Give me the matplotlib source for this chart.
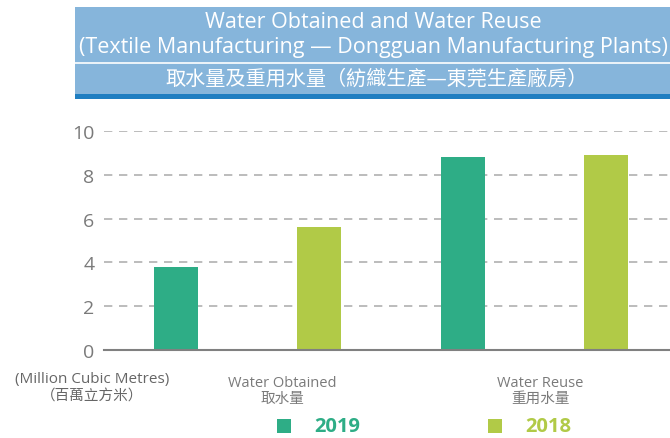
import numpy as np
import matplotlib.pyplot as plt
from matplotlib.patches import Rectangle

plt.rcParams['font.family'] = ['Open Sans', 'Noto Sans CJK TC', 'DejaVu Sans']

# data
years = ['2019', '2018']
categories = ['Water Obtained\n取水量', 'Water Reuse\n重用水量']
values_2019 = [3.8, 8.8]
values_2018 = [5.6, 8.9]
yticks = [0, 2, 4, 6, 8, 10]

c2019 = '#2EAD86'
c2018 = '#B1CA47'
grey = '#7a7a7a'

W, H = 670, 439
fig = plt.figure(figsize=(W / 100, H / 100), dpi=100)


def fx(px):
    return px / W


def fy(py):
    return 1 - py / H


# title band
fig.add_artist(Rectangle((fx(75), fy(96)), fx(670) - fx(75), fy(8) - fy(96),
                         transform=fig.transFigure, facecolor='#86B5DB', edgecolor='none'))
fig.add_artist(Rectangle((fx(75), fy(100)), fx(670) - fx(75), fy(95) - fy(100),
                         transform=fig.transFigure, facecolor='#1F7EC1', edgecolor='none'))
fig.add_artist(plt.Line2D([fx(75), fx(670)], [fy(64), fy(64)], transform=fig.transFigure,
                          color='white', lw=1.2))
tx = fx(373)
fig.text(tx, fy(22), 'Water Obtained and Water Reuse', color='white', fontsize=15.5,
         ha='center', va='center')
fig.text(tx, fy(47), '(Textile Manufacturing — Dongguan Manufacturing Plants)', color='white',
         fontsize=15.5, ha='center', va='center')
fig.text(fx(377), fy(80), '取水量及重用水量（紡織生產—東莞生產廠房）', color='white', fontsize=14.5,
         ha='center', va='center')

# axes
ax = fig.add_axes([fx(104), fy(351), fx(670) - fx(104), fy(132) - fy(351)])
step = 143.3
x = np.arange(len(categories))
ax.bar(x * 2, values_2019, width=44 / step, color=c2019)
ax.bar(x * 2 + 1, values_2018, width=44 / step, color=c2018)
ax.set_xlim((104 - 176) / step, (670 - 176) / step)
ax.set_ylim(0, 10)
ax.set_yticks(yticks)
ax.set_yticklabels([str(v) for v in yticks], color=grey, fontsize=14)
ax.tick_params(axis='y', length=0, pad=7)
ax.set_xticks([(282 - 176) / step, (540 - 176) / step])
ax.set_xticklabels(categories, color=grey, fontsize=10.5, linespacing=1.05)
ax.tick_params(axis='x', length=0, pad=18)
for v in yticks[1:]:
    ax.axhline(v, color='#b0b0b0', lw=1.2, ls=(0, (5, 4)), zorder=0)
for s in ['top', 'right', 'left']:
    ax.spines[s].set_visible(False)
ax.spines['bottom'].set_color('#808080')
ax.spines['bottom'].set_linewidth(1.5)

fig.text(fx(92), fy(380), '(Million Cubic Metres)', color='#666666', fontsize=11,
         ha='center', va='center')
fig.text(fx(92), fy(397), '（百萬立方米）', color='#666666', fontsize=10.5,
         ha='center', va='center')

# legend
for lx, label, col in [(277, years[0], c2019), (488, years[1], c2018)]:
    fig.add_artist(Rectangle((fx(lx), fy(434)), fx(14), fy(420) - fy(434),
                             transform=fig.transFigure, facecolor=col, edgecolor='none'))
    fig.text(fx(lx + 60), fy(427), label, color=col, fontsize=14.5, fontweight='bold',
             ha='center', va='center')

fig.savefig('out.png', dpi=100)
